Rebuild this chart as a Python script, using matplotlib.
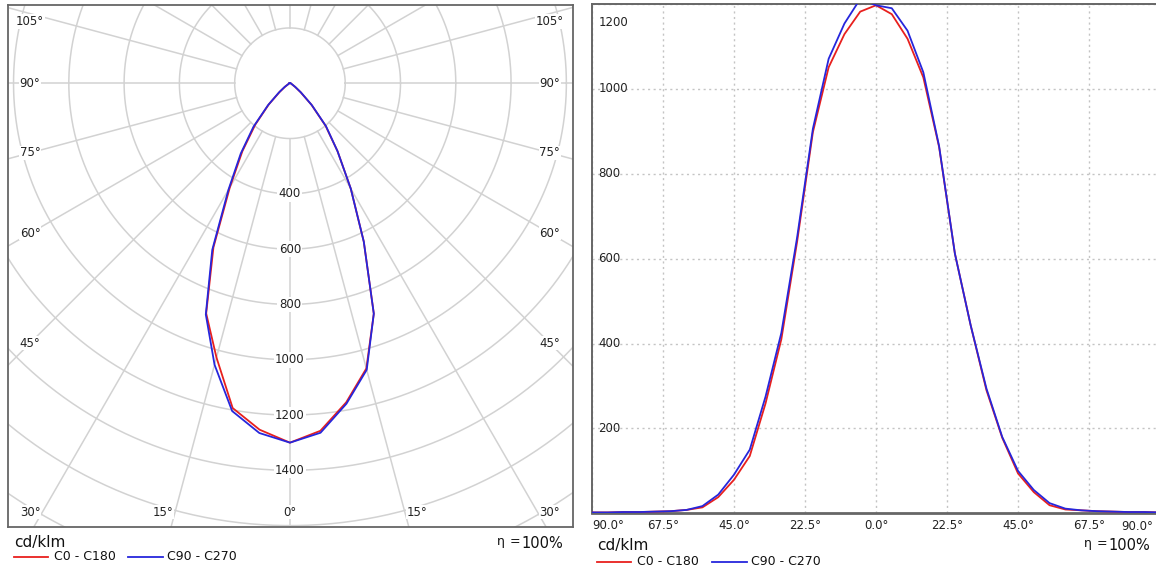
import matplotlib
matplotlib.use("Agg")
import matplotlib.pyplot as plt
import numpy as np
from matplotlib.lines import Line2D

# gamma angles, negative side = C180 / C270, positive side = C0 / C90
gamma = [-90, -85, -80, -75, -70, -65, -60, -55, -50, -45, -40, -35, -30, -25, -20, -15, -10, -5,
         0, 5, 10, 15, 20, 25, 30, 35, 40, 45, 50, 55, 60, 65, 70, 75, 80, 85, 90]

# linear diagram readings (cd/klm)
lin_c0_c180 = [2, 2, 3, 3, 4, 5, 8, 14, 38, 79, 135, 259, 410, 640, 898, 1051, 1129, 1182,
               1197, 1176, 1118, 1027, 863, 612, 443, 290, 178, 94, 50, 19, 9, 7, 5, 4, 3, 3, 2]
lin_c90_c270 = [2, 2, 3, 3, 4, 5, 8, 17, 44, 91, 150, 275, 425, 650, 906, 1071, 1154, 1212,
                1197, 1190, 1137, 1039, 865, 612, 443, 294, 180, 100, 55, 24, 11, 7, 5, 4, 3, 3, 2]

# polar diagram readings (cd/klm)
pol_c0_c180 = [2, 2, 3, 3, 4, 5, 8, 20, 48, 108, 195, 300, 435, 655, 886, 1027, 1193, 1258,
               1300, 1262, 1172, 1068, 887, 632, 440, 300, 200, 110, 50, 22, 10, 7, 5, 4, 3, 3, 2]
pol_c90_c270 = [2, 2, 3, 3, 4, 5, 8, 24, 52, 112, 205, 310, 445, 665, 890, 1054, 1204, 1270,
                1300, 1269, 1177, 1073, 887, 632, 440, 300, 203, 112, 52, 24, 11, 7, 5, 4, 3, 3, 2]

ring_values = [200, 400, 600, 800, 1000, 1200, 1400, 1600, 1800, 2000]
ring_labels = [400, 600, 800, 1000, 1200, 1400]
side_angles = [45, 60, 75, 90, 105]
bottom_angles = [0, 15, 30]
lin_xticks = [-90, -67.5, -45, -22.5, 0, 22.5, 45, 67.5, 90]
lin_yticks = [200, 400, 600, 800, 1000, 1200]

RED = "#e8201e"
BLUE = "#2626dc"
GRID = "#d2d2d2"
FRAME = "#666666"
TXT = "#222222"
W, H = 1156, 570

plt.rcParams["font.family"] = "DejaVu Sans"
fig = plt.figure(figsize=(W / 100, H / 100), dpi=100)


def fx(px):
    return px / W


def fy(py):
    return 1 - py / H


# ---------------- polar diagram ----------------
ax = fig.add_axes([fx(8), fy(526.7), fx(565), 521.7 / H])
ax.set_xlim(-1020, 1024)
ax.set_ylim(-1604, 283)
ax.set_xticks([])
ax.set_yticks([])
for s in ax.spines.values():
    s.set_color(FRAME)
    s.set_linewidth(1.3)

th = np.linspace(0, 2 * np.pi, 720)
for r in ring_values:
    ax.plot(r * np.cos(th), r * np.sin(th), color=GRID, lw=1.1, zorder=1)
for a in range(0, 360, 15):
    t = np.radians(a)
    ax.plot([200 * np.sin(t), 4000 * np.sin(t)], [-200 * np.cos(t), -4000 * np.cos(t)],
            color=GRID, lw=1.1, zorder=1)

for r in ring_labels:
    ax.text(0, -r, str(r), ha="center", va="center", fontsize=8.5, color=TXT, zorder=2,
            bbox=dict(facecolor="white", edgecolor="none", pad=1.0))

xs = 940
for a in side_angles:
    y = -xs / np.tan(np.radians(a)) if a != 90 else 0.0
    y = min(y, 223)
    for sgn in (-1, 1):
        ax.text(sgn * xs, y, f"{a}°", ha="center", va="center", fontsize=8.5, color=TXT,
                zorder=2, bbox=dict(facecolor="white", edgecolor="none", pad=0.5))
for a in bottom_angles:
    x = min(1714 * np.tan(np.radians(a)), xs)
    for sgn in ((-1, 1) if a else (1,)):
        ax.text(sgn * x, -1551, f"{a}°", ha="center", va="center", fontsize=8.5, color=TXT,
                zorder=2, bbox=dict(facecolor="white", edgecolor="none", pad=0.5))

g = np.radians(gamma)
for vals, col in ((pol_c0_c180, RED), (pol_c90_c270, BLUE)):
    v = np.asarray(vals, dtype=float)
    ax.plot(v * np.sin(g), -v * np.cos(g), color=col, lw=1.3, zorder=3)

# ---------------- linear diagram ----------------
bx = fig.add_axes([fx(592), fy(513.3), fx(568), 509.3 / H])
bx.set_xlim(-90, 90)
bx.set_ylim(0, 1195)
bx.set_xticks(lin_xticks)
bx.set_yticks(lin_yticks)
bx.set_yticklabels([])
# last label is drawn by hand so it can sit just inside the picture edge
bx.set_xticklabels([f"{abs(v):.1f}°" for v in lin_xticks[:-1]] + [""], fontsize=8.5, color=TXT)
bx.get_xticklabels()[0].set_horizontalalignment("left")
bx.text(0.9875, -6.6 / 509.3, f"{abs(lin_xticks[-1]):.1f}°", transform=bx.transAxes,
        ha="right", va="top", fontsize=8.5, color=TXT)
bx.tick_params(length=0, pad=4)
bx.grid(True, linestyle=(0, (1.5, 2.5)), color="#c4c4c4", lw=1.0)
bx.set_axisbelow(True)
for s in bx.spines.values():
    s.set_color(FRAME)
    s.set_linewidth(1.4)
bx.spines["bottom"].set_linewidth(2.0)

for v in lin_yticks:
    bx.text(0.011, min(v, 1157), str(v), transform=bx.get_yaxis_transform(),
            ha="left", va="center", fontsize=8.5, color=TXT)

bx.plot(gamma, lin_c0_c180, color=RED, lw=1.3, zorder=3)
bx.plot(gamma, lin_c90_c270, color=BLUE, lw=1.3, zorder=3)

# ---------------- captions / legends ----------------
for (x0, ycd, yleg, xeta, ctxt) in ((14, 543, 557, 563, (54, 167)),
                                    (597, 545.5, 561.5, 1150, (637, 751))):
    fig.text(fx(x0), fy(ycd), "cd/klm", fontsize=11, va="center", ha="left", color="#111111")
    fig.text(fx(xeta), fy(ycd), "100%", fontsize=10.5, va="center", ha="right", color="#111111")
    fig.text(fx(xeta - 48), fy(ycd - 1.5), "=", fontsize=9, va="center", ha="center", color="#111111")
    fig.text(fx(xeta - 62), fy(ycd - 1.5), "η", fontsize=9, va="center", ha="center", color="#111111")
    fig.add_artist(Line2D([fx(x0), fx(x0 + 34)], [fy(yleg), fy(yleg)], color=RED, lw=1.3))
    fig.text(fx(ctxt[0]), fy(yleg), "C0 - C180", fontsize=9, va="center", ha="left", color="#111111")
    fig.add_artist(Line2D([fx(ctxt[1] - 39), fx(ctxt[1] - 4)], [fy(yleg), fy(yleg)], color=BLUE, lw=1.3))
    fig.text(fx(ctxt[1]), fy(yleg), "C90 - C270", fontsize=9, va="center", ha="left", color="#111111")

fig.savefig("out.png", dpi=100)
